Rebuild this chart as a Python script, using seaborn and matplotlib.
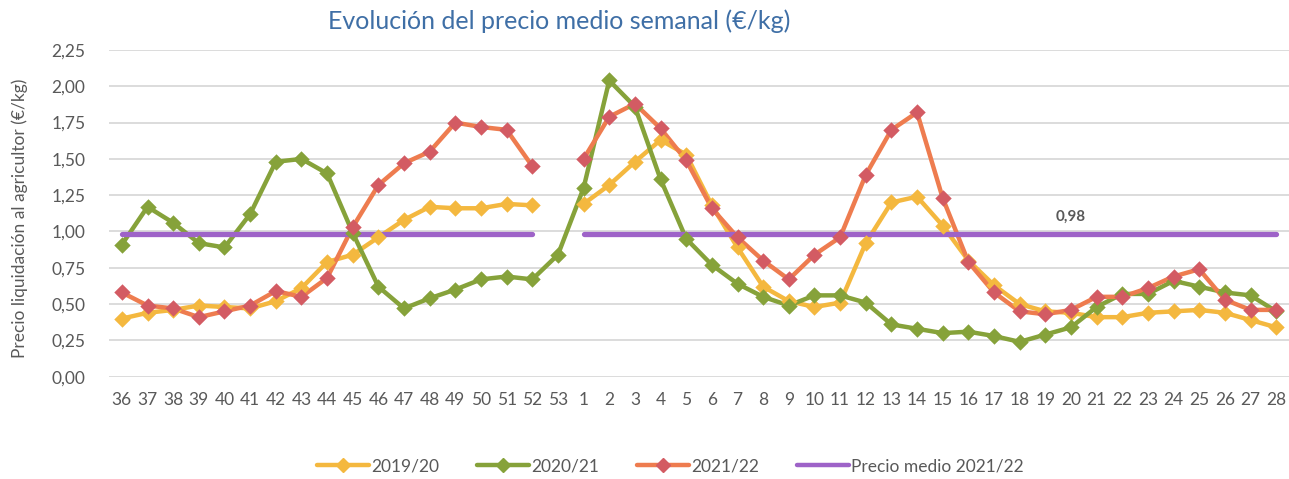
import numpy as np
import pandas as pd
import seaborn as sns
import matplotlib.pyplot as plt
from matplotlib.lines import Line2D

# Semanas de campaña (36 -> 53, luego 1 -> 28)
semanas = [str(w) for w in list(range(36, 54)) + list(range(1, 29))]

nan = np.nan
campana_2019 = [0.40, 0.44, 0.46, 0.49, 0.48, 0.47, 0.52, 0.61, 0.79, 0.84, 0.96, 1.08,
                1.17, 1.16, 1.16, 1.19, 1.18, nan,
                1.19, 1.32, 1.48, 1.63, 1.53, 1.18, 0.89, 0.62, 0.52, 0.48, 0.51, 0.92,
                1.20, 1.24, 1.04, 0.80, 0.63, 0.50, 0.45, 0.44, 0.41, 0.41, 0.44, 0.45,
                0.46, 0.44, 0.39, 0.34]
campana_2020 = [0.91, 1.17, 1.06, 0.92, 0.89, 1.12, 1.48, 1.50, 1.40, 0.99, 0.62, 0.47,
                0.54, 0.60, 0.67, 0.69, 0.67, 0.84,
                1.30, 2.04, 1.86, 1.36, 0.95, 0.77, 0.64, 0.55, 0.49, 0.56, 0.56, 0.51,
                0.36, 0.33, 0.30, 0.31, 0.28, 0.24, 0.29, 0.34, 0.48, 0.57, 0.57, 0.66,
                0.62, 0.58, 0.56, 0.45]
campana_2021 = [0.58, 0.49, 0.47, 0.41, 0.45, 0.49, 0.59, 0.55, 0.68, 1.03, 1.32, 1.47,
                1.55, 1.75, 1.72, 1.70, 1.45, nan,
                1.50, 1.79, 1.88, 1.71, 1.49, 1.16, 0.96, 0.80, 0.67, 0.84, 0.96, 1.39,
                1.70, 1.82, 1.23, 0.79, 0.58, 0.45, 0.43, 0.46, 0.55, 0.55, 0.61, 0.69,
                0.74, 0.53, 0.46, 0.46]
precio_medio = 0.98
linea_media = [precio_medio] * 17 + [nan] + [precio_medio] * 28

series = [
    ("2019/20", campana_2019, "#F4B83F", "#F4B83F", "D"),
    ("2020/21", campana_2020, "#86A23A", "#86A23A", "D"),
    ("2021/22", campana_2021, "#EE7C4F", "#D35B63", "D"),
    ("Precio medio 2021/22", linea_media, "#9E63C8", "#9E63C8", None),
]

sns.set_theme(style="white")
plt.rcParams["font.family"] = ["Lato", "DejaVu Sans"]
gris = "#595959"

fig = plt.figure(figsize=(12.89, 4.79), dpi=100)
ax = fig.add_axes([0.0846, 0.2136, 0.9154, 0.682])

handles = []
for nombre, valores, color, mcolor, marca in series:
    df = pd.DataFrame({"x": np.arange(len(valores)), "y": valores})
    df["tramo"] = df["y"].isna().cumsum()  # corta la linea en la semana 53
    df = df.dropna()
    sns.lineplot(data=df, x="x", y="y", units="tramo", estimator=None,
                 color=color, linewidth=3.2 if marca else 3.8, legend=False,
                 ax=ax, solid_capstyle="round", zorder=2)
    handles.append(Line2D([0], [0], color=color, lw=3.2, marker=marca,
                          markersize=7, markerfacecolor=mcolor,
                          markeredgecolor=mcolor, label=nombre))

# en Excel los marcadores quedan por encima de todas las lineas
for nombre, valores, color, mcolor, marca in series:
    if not marca:
        continue
    df = pd.DataFrame({"x": np.arange(len(valores)), "y": valores}).dropna()
    sns.scatterplot(data=df, x="x", y="y", marker=marca, s=70, color=mcolor,
                    linewidth=0, legend=False, ax=ax, zorder=4)

ax.text(semanas.index("20"), 1.10, "0,98", ha="center", va="center",
        fontsize=11, fontweight="bold", color=gris)

ax.set_xlim(-0.5, len(semanas) - 0.5)
ax.set_ylim(0, 2.25)
ax.set_xticks(range(len(semanas)))
ax.set_xticklabels(semanas)
yt = np.arange(0, 2.26, 0.25)
ax.set_yticks(yt)
ax.set_yticklabels([f"{v:.2f}".replace(".", ",") for v in yt])
ax.tick_params(axis="x", length=0, pad=11, labelsize=12.5, labelcolor=gris)
ax.tick_params(axis="y", length=0, pad=17, labelsize=12.5, labelcolor=gris)
ax.grid(axis="y", color="#D9D9D9", linewidth=1.3)
ax.set_axisbelow(True)
sns.despine(ax=ax, left=True, bottom=True)
ax.set_xlabel("")
ax.set_ylabel("")

fig.text(0.015, 0.545, "Precio liquidación al agricultor (€/kg)", rotation=90,
         ha="center", va="center", fontsize=12.5, color=gris)
fig.text(0.434, 0.955, "Evolución del precio medio semanal (€/kg)", ha="center",
         va="center", fontsize=18, color="#3F6FA6")

fig.legend(handles=handles, loc="center", bbox_to_anchor=(0.52, 0.027), ncol=4,
           frameon=False, fontsize=12.5, labelcolor=gris, handlelength=3,
           handletextpad=0.1, columnspacing=2.2)

fig.savefig("out.png", dpi=100)
